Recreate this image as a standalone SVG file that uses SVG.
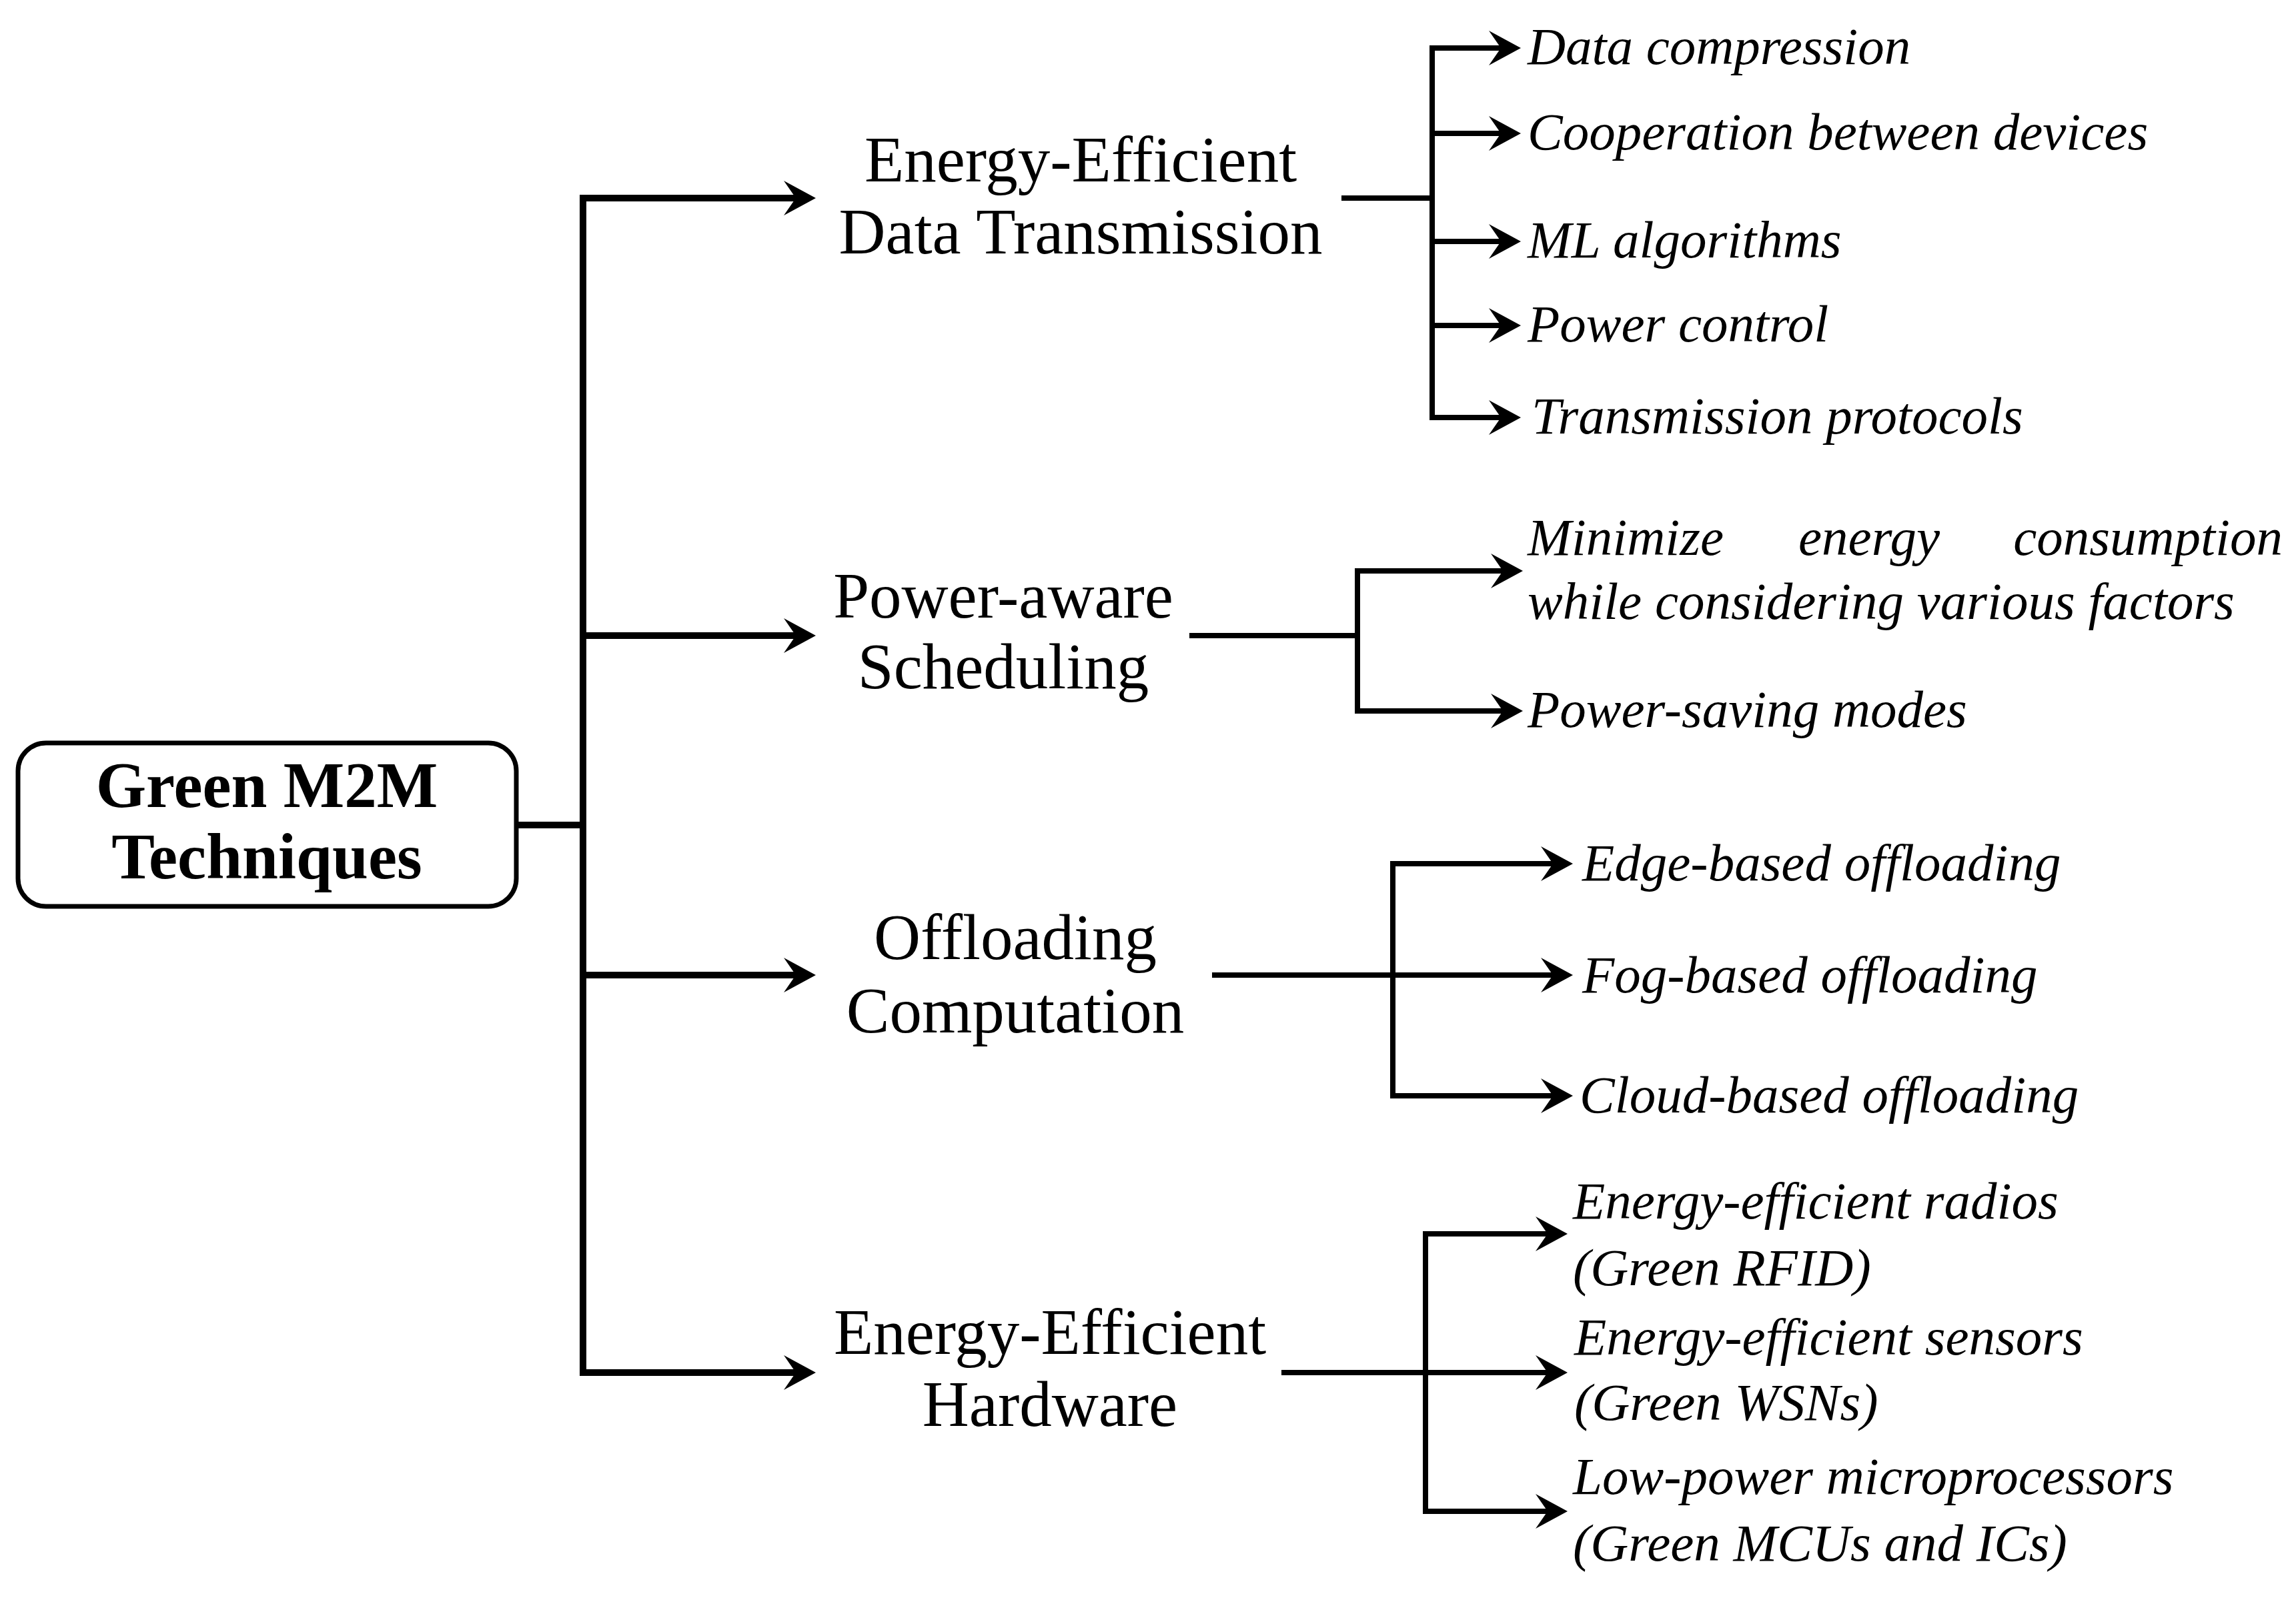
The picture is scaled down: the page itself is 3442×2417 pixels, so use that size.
<svg xmlns="http://www.w3.org/2000/svg" width="3442" height="2417" viewBox="0 0 3442 2417">
<style>
.bg{fill:#ffffff}
.box{fill:#ffffff;stroke:#000;stroke-width:7}
.root{font-family:"Liberation Serif","Times New Roman",serif;font-weight:bold;font-size:97px;fill:#000;text-anchor:middle}
.lbl{font-family:"Liberation Serif","Times New Roman",serif;font-size:97px;fill:#000;text-anchor:middle}
.leaf{font-family:"Liberation Serif","Times New Roman",serif;font-style:italic;font-size:79px;fill:#000}
.main{fill:none;stroke:#000;stroke-width:10;stroke-linecap:square}
.sub{fill:none;stroke:#000;stroke-width:8;stroke-linecap:square}
.arr{marker-end:url(#ah);stroke-linecap:butt}
</style>
<defs>
<marker id="ah" markerUnits="userSpaceOnUse" viewBox="0 -30 50 60" markerWidth="50" markerHeight="60" refX="20" refY="0" orient="auto" overflow="visible">
<path d="M0,-26 L48,0 L0,26 L18,0 Z" fill="#000"/>
</marker>
</defs>
<rect class="bg" x="0" y="0" width="3442" height="2417"/>

<g id="connectors">
<path class="main" d="M775,1237 H874"/>
<path class="main" d="M874,297 V2058"/>
<path class="main arr" d="M874,297 H1195"/>
<path class="main arr" d="M874,953 H1195"/>
<path class="main arr" d="M874,1462 H1195"/>
<path class="main arr" d="M874,2058 H1195"/>

<path class="sub" d="M2015,297 H2147"/>
<path class="sub" d="M2147,72 V626"/>
<path class="sub arr" d="M2147,72 H2252"/>
<path class="sub arr" d="M2147,200 H2252"/>
<path class="sub arr" d="M2147,362 H2252"/>
<path class="sub arr" d="M2147,488 H2252"/>
<path class="sub arr" d="M2147,626 H2252"/>

<path class="sub" d="M1787,953 H2035"/>
<path class="sub" d="M2035,856 V1066"/>
<path class="sub arr" d="M2035,856 H2255"/>
<path class="sub arr" d="M2035,1066 H2255"/>

<path class="sub arr" d="M1817,1462 H2330"/>
<path class="sub" d="M2088,1295 V1643"/>
<path class="sub arr" d="M2088,1295 H2330"/>
<path class="sub arr" d="M2088,1643 H2330"/>

<path class="sub" d="M1925,2058 H2137"/>
<path class="sub" d="M2137,1850 V2266"/>
<path class="sub arr" d="M2137,1850 H2322"/>
<path class="sub arr" d="M2137,2058 H2322"/>
<path class="sub arr" d="M2137,2266 H2322"/>
</g>

<g id="root">
<rect class="box" x="27" y="1114" width="747" height="245" rx="42" ry="42"/>
<text class="root" x="400" y="1210">Green M2M</text>
<text class="root" x="400" y="1317">Techniques</text>
</g>

<g id="n-transmission">
<text class="lbl" x="1620" y="272">Energy-Efficient</text>
<text class="lbl" x="1620" y="380">Data Transmission</text>
</g>
<g id="n-scheduling">
<text class="lbl" x="1504" y="926">Power-aware</text>
<text class="lbl" x="1504" y="1032">Scheduling</text>
</g>
<g id="n-offloading">
<text class="lbl" x="1522" y="1438">Offloading</text>
<text class="lbl" x="1522" y="1548">Computation</text>
</g>
<g id="n-hardware">
<text class="lbl" x="1574" y="2030">Energy-Efficient</text>
<text class="lbl" x="1574" y="2138">Hardware</text>
</g>

<g id="leaf-data-compression"><text class="leaf" x="2290" y="96">Data compression</text></g>
<g id="leaf-cooperation"><text class="leaf" x="2290" y="224">Cooperation between devices</text></g>
<g id="leaf-ml"><text class="leaf" x="2290" y="386">ML algorithms</text></g>
<g id="leaf-power-control"><text class="leaf" x="2290" y="512">Power control</text></g>
<g id="leaf-protocols"><text class="leaf" x="2296" y="650">Transmission protocols</text></g>

<g id="leaf-minimize">
<text class="leaf" y="832"><tspan x="2290">Minimize</tspan><tspan x="2696">energy</tspan><tspan x="3422" text-anchor="end">consumption</tspan></text>
<text class="leaf" x="2290" y="928">while considering various factors</text>
</g>
<g id="leaf-power-saving"><text class="leaf" x="2290" y="1090">Power-saving modes</text></g>

<g id="leaf-edge"><text class="leaf" x="2372" y="1320">Edge-based offloading</text></g>
<g id="leaf-fog"><text class="leaf" x="2372" y="1488">Fog-based offloading</text></g>
<g id="leaf-cloud"><text class="leaf" x="2368" y="1668">Cloud-based offloading</text></g>

<g id="leaf-radios">
<text class="leaf" x="2358" y="1827">Energy-efficient radios</text>
<text class="leaf" x="2358" y="1927">(Green RFID)</text>
</g>
<g id="leaf-sensors">
<text class="leaf" x="2360" y="2031">Energy-efficient sensors</text>
<text class="leaf" x="2360" y="2129">(Green WSNs)</text>
</g>
<g id="leaf-mcu">
<text class="leaf" x="2358" y="2240">Low-power microprocessors</text>
<text class="leaf" x="2358" y="2340">(Green MCUs and ICs)</text>
</g>
</svg>
